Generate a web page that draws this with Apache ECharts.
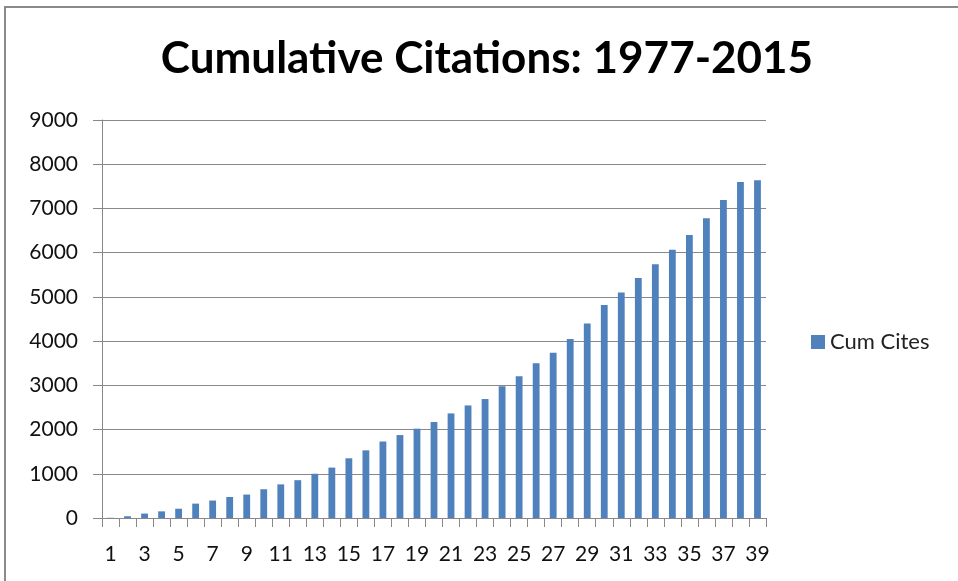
<!DOCTYPE html>
<html><head><meta charset="utf-8">
<script src="https://cdn.jsdelivr.net/npm/echarts@6/dist/echarts.min.js"></script>
<style>html,body{margin:0;padding:0;background:#fff}#c{width:958px;height:581px}</style>
</head><body><div id="c"></div>
<script>
const categories = ['1','2','3','4','5','6','7','8','9','10','11','12','13','14','15','16','17','18','19','20','21','22','23','24','25','26','27','28','29','30','31','32','33','34','35','36','37','38','39'];
const cumCites = [5,40,100,150,210,325,395,475,530,650,760,855,1000,1140,1350,1530,1730,1875,2020,2170,2365,2545,2690,2980,3205,3500,3735,4050,4400,4815,5100,5425,5740,6065,6400,6780,7190,7600,7640];
const yTicks = {min:0, max:9000, interval:1000};
const seriesName = 'Cum Cites';
const titleText = 'Cumulative Citations: 1977-2015';

const font = 'Lato, "Open Sans", sans-serif';
const chart = echarts.init(document.getElementById('c'));
chart.setOption({
  animation:false,
  textStyle:{fontFamily:font},
  graphic:[
    {type:'rect', shape:{x:5,y:7,width:960,height:600}, style:{fill:'none', stroke:'#8a8a8a', lineWidth:2}, silent:true},
    {type:'text', x:487, y:59, style:{text:titleText, font:'bold 44px Lato, sans-serif', fill:'#000', textAlign:'center', textVerticalAlign:'middle'}, silent:true}
  ],
  legend:{orient:'vertical', left:806, top:326, itemWidth:14, itemHeight:14, itemGap:8, icon:'rect', textStyle:{fontFamily:font, fontSize:22, color:'#222'}, data:[seriesName]},
  grid:{left:102, right:192, top:120, bottom:63},
  xAxis:{type:'category', data:categories, boundaryGap:true,
    axisLine:{lineStyle:{color:'#888'}},
    axisTick:{show:true, length:9, alignWithLabel:false, interval:0, lineStyle:{color:'#888'}},
    axisLabel:{interval:1, margin:26, fontSize:21, color:'#111', fontFamily:font}},
  yAxis:{type:'value', min:yTicks.min, max:yTicks.max, interval:yTicks.interval,
    axisLine:{show:true, lineStyle:{color:'#888'}},
    axisTick:{show:true, length:9, lineStyle:{color:'#888'}},
    splitLine:{lineStyle:{color:'#888'}},
    axisLabel:{margin:24, fontSize:21, color:'#111', fontFamily:font, formatter:function(v){return String(v);}}},
  series:[{name:seriesName, type:'bar', data:cumCites, barWidth:'40%', itemStyle:{color:'#4f81bd'}}]
});
</script></body></html>
